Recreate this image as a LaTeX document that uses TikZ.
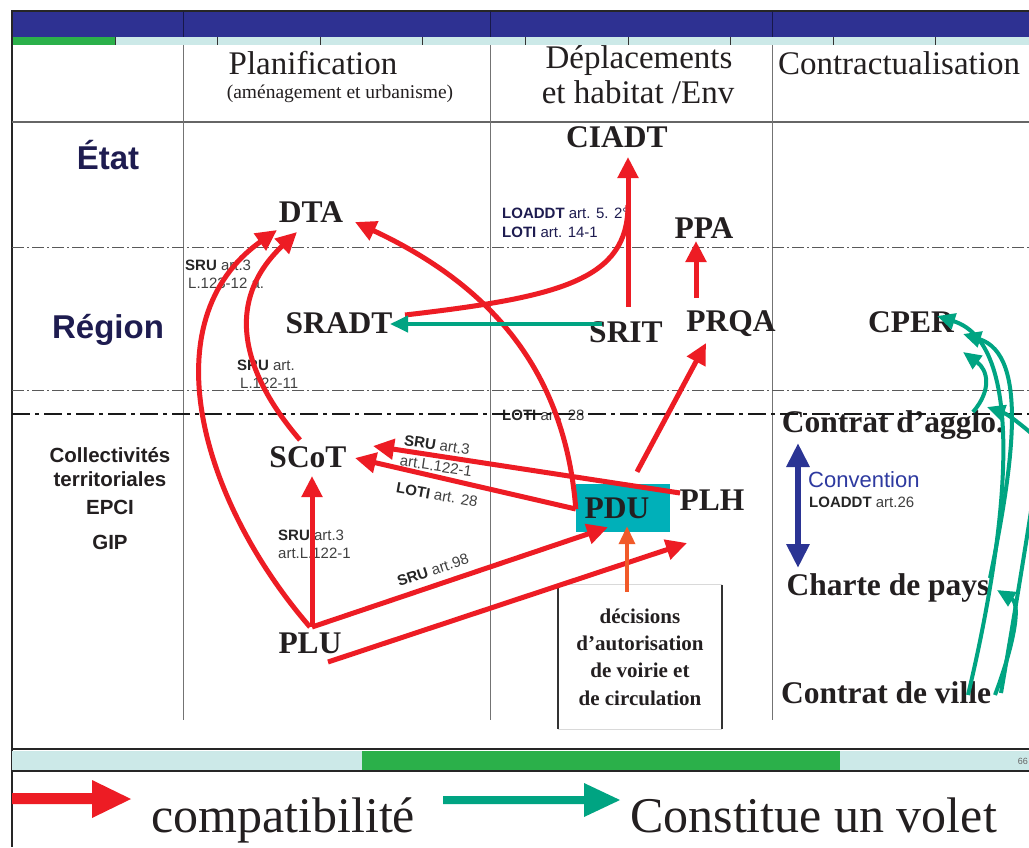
\documentclass[tikz,border=0pt]{standalone}
\usepackage{fontspec}
\setmainfont{Liberation Serif}
\newfontfamily\sansf{Liberation Sans}
\usetikzlibrary{arrows.meta,calc}
\definecolor{cred}{RGB}{237,28,36}
\definecolor{cgreen}{RGB}{0,164,130}
\definecolor{corange}{RGB}{241,90,41}
\definecolor{cteal}{RGB}{0,176,185}
\definecolor{cband}{RGB}{46,49,146}
\definecolor{ccyan}{RGB}{204,233,232}
\definecolor{cbar}{RGB}{43,176,74}
\definecolor{cnavy}{RGB}{30,28,80}
\definecolor{cconv}{RGB}{46,58,160}
\definecolor{cdbl}{RGB}{43,52,148}
\definecolor{cink}{RGB}{35,31,32}
\begin{document}
\begin{tikzpicture}[x=1pt,y=-1pt,
  bnode/.style={font=\fontsize{31.5}{34}\selectfont\bfseries, inner sep=1pt, anchor=base, text=cink},
  hdr/.style={font=\fontsize{33}{36}\selectfont, inner sep=0pt, anchor=base, text=cink},
  side/.style={font=\sansf\fontsize{33}{36}\selectfont\bfseries, inner sep=0pt, anchor=base, text=cnavy},
  coll/.style={font=\sansf\fontsize{20.5}{22}\selectfont\bfseries, inner sep=0pt, anchor=base, text=cink},
  lab/.style={font=\sansf\fontsize{15}{17}\selectfont, inner sep=0pt, text=black!75},
  redline/.style={draw=cred, line width=5pt},
  redarr/.style={redline, -{Triangle[length=21pt,width=20pt]}},
  greenline/.style={draw=cgreen, line width=4pt},
  greenarr/.style={greenline, -{Triangle[length=18pt,width=16pt]}},
  thindash/.style={draw=black!65, line width=0.9pt, dash pattern=on 12pt off 3pt on 2pt off 3pt},
  thickdash/.style={draw=black!90, line width=2pt, dash pattern=on 18pt off 5pt on 4pt off 5pt},
  legtext/.style={font=\fontsize{50}{52}\selectfont, inner sep=0pt, anchor=base west, text=cink}
]
\useasboundingbox (0,0) rectangle (1029,847);
\clip (0,0) rectangle (1029,847);
\fill[white] (0,0) rectangle (1029,847);

% ---- top band
\fill[cband] (12,11) rectangle (1029,37);
\fill[ccyan] (12,37) rectangle (1029,45);
\fill[cbar] (12,37) rectangle (115,45);
\foreach \x in {115,217,320,422,525,628,730,833,935}
  \draw[black!80, line width=1pt] (\x,37) -- (\x,45);
\draw[black!85, line width=1.5pt] (12,11) -- (1029,11);
\foreach \x in {183,490,772}
  \draw[black!50!cband, line width=0.8pt] (\x,11) -- (\x,37);

% ---- frame
\draw[black!85, line width=2pt] (12,10) -- (12,847);
\draw[black!60, line width=1.2pt] (12,122) -- (1029,122);
\foreach \x in {183,490,772}
  \draw[black!55, line width=1pt] (\x,45) -- (\x,720);

% ---- bottom band
\draw[black!85, line width=2pt] (12,749) -- (1029,749);
\fill[ccyan] (12,751) rectangle (1029,770);
\fill[cbar] (362,751) rectangle (840,770);
\draw[black!85, line width=2pt] (12,771) -- (1029,771);
\node[font=\sansf\fontsize{9}{9}\selectfont, text=black!60, anchor=east, inner sep=0pt] (pg) at (1028,761) {66};

% ---- level separators
\draw[thindash] (12,247) -- (1029,247);
\draw[thindash] (12,390) -- (1029,390);

% ---- headers
\node[hdr] (hplan) at (313,74) {Planification};
\node[font=\fontsize{19.5}{22}\selectfont, inner sep=0pt, anchor=base, text=cink] (hplanb) at (340,98) {(aménagement et urbanisme)};
\node[hdr] (hdep) at (639,68) {Déplacements};
\node[hdr] (hdepb) at (638,103) {et habitat /Env};
\node[hdr] (hcon) at (899,74) {Contractualisation};

% ---- row labels
\node[side] (etat) at (108,169) {État};
\node[side] (region) at (108,338) {Région};
\node[coll] (coll1) at (110,462) {Collectivités};
\node[coll] (coll2) at (110,486) {territoriales};
\node[coll] (epci) at (110,514) {EPCI};
\node[coll] (gip) at (110,549) {GIP};

% ---- main nodes
\node[bnode] (CIADT) at (617,147) {CIADT};
\node[bnode] (DTA) at (311,222) {DTA};
\node[bnode] (PPA) at (704,238) {PPA};
\node[bnode] (SRADT) at (339,333) {SRADT};
\node[bnode] (SRIT) at (626,342) {SRIT};
\node[bnode] (PRQA) at (731,331) {PRQA};
\node[bnode] (CPER) at (911,332) {CPER};
\node[bnode] (SCoT) at (308,467) {SCoT};
\node[fill=cteal, minimum width=94pt, minimum height=48pt, inner sep=0pt,
      font=\fontsize{31.5}{34}\selectfont\bfseries, text=cink] (PDU) at (623,508) {\makebox[0pt]{\hspace*{-12pt}PDU}};
\node[bnode] (PLH) at (712,510) {PLH};
\node[bnode] (PLU) at (310,653) {PLU};
\node[bnode] (agglo) at (893,432) {Contrat d’agglo.};
\node[bnode] (charte) at (888,595) {Charte de pays};
\node[bnode] (ville) at (886,703) {Contrat de ville};

\node[minimum width=163pt, minimum height=144pt, inner sep=0pt, align=center,
      font=\fontsize{21}{27.3}\selectfont\bfseries, text=cink] (dec) at (640,657)
      {décisions\\d’autorisation\\de voirie et\\de circulation};
\draw[black!15, line width=1pt] (dec.north west) -- (dec.north east);
\draw[black!15, line width=1pt] (dec.south west) -- (dec.south east);
\draw[black!80, line width=1.8pt] (dec.north west) -- (dec.south west);
\draw[black!80, line width=1.8pt] (dec.north east) -- (dec.south east);

% ---- small labels
\node[lab, anchor=base west] (l1) at (185,270) {\textbf{\color{black!85}SRU} art.3};
\node[lab, anchor=base west] (l2) at (188,288) { L.123-12 a.};
\node[lab, anchor=base west] (l3) at (237,370) {\textbf{\color{black!85}SRU} art.};
\node[lab, anchor=base west] (l4) at (240,388) { L.122-11};
\node[lab, anchor=base west, text=cnavy] (l5) at (502,218) {\textbf{LOADDT} art. 5. 2°};
\node[lab, anchor=base west, text=cnavy] (l6) at (502,237) {\textbf{LOTI} art. 14-1};
\node[lab, anchor=base west] (l7) at (502,420) {\textbf{\color{black!85}LOTI} art. 28};
\node[lab, rotate=-8.5] (l8) at (437,445) {\textbf{\color{black!85}SRU} art.3};
\node[lab, rotate=-8.5] (l9) at (436,466) {art.L.122-1};
\node[lab, rotate=-10] (l10) at (437,495) {\textbf{\color{black!85}LOTI} art. 28};
\node[lab, anchor=base west] (l11) at (278,540) {\textbf{\color{black!85}SRU} art.3};
\node[lab, anchor=base west] (l12) at (278,558) {art.L.122-1};
\node[lab, rotate=18.5] (l13) at (433,570) {\textbf{\color{black!85}SRU} art.98};
\node[font=\sansf\fontsize{22}{24}\selectfont, text=cconv, anchor=base west, inner sep=0pt] (conv) at (808,487) {Convention};
\node[lab, anchor=base west] (conv2) at (809,507) {\textbf{\color{black!85}LOADDT} art.26};

\draw[thickdash] (12,414) -- (1029,414);

% ---- red connectors (compatibilité)
\draw[redarr] ($(SRIT.base)+(2,-35)$) -- ($(CIADT.base)+(11,10)$);
\draw[redline] ($(SRADT.base)+(66,-18)$) .. controls (560,297) and (628,280) .. ($(CIADT.base)+(11,58)$);
\draw[redarr] ($(PRQA.base)+(-35,-33)$) -- ($(PPA.base)+(-8,3)$);
\draw[redarr] ($(PDU.north)+(14,-12)$) -- ($(PRQA.base)+(-25,12)$);
\draw[redarr] ($(PLH.base)+(-32,-17)$) -- ($(SCoT.base)+(65,-21)$);
\draw[redarr] ($(PDU.west)+(0,1)$) -- ($(SCoT.base)+(47,-9)$);
\draw[redarr] ($(PDU.west)+(0,1)$) .. controls (565,370) and (490,285) .. ($(DTA.base)+(44,0)$);
\draw[redarr] ($(PLU.base)+(0,-26)$) .. controls (200,500) and (150,320) .. ($(DTA.base)+(-34,8)$);
\draw[redarr] ($(SCoT.base)+(-8,-27)$) .. controls (240,370) and (225,300) .. ($(DTA.base)+(-14,10)$);
\draw[redarr] ($(PLU.base)+(2,-26)$) -- ($(SCoT.base)+(4,9)$);
\draw[redarr] ($(PLU.base)+(2,-26)$) -- ($(PDU.south)+(-15,-5)$);
\draw[redarr] ($(PLU.base)+(18,9)$) -- ($(PLH.base)+(-25,33)$);

% ---- orange
\draw[draw=corange, line width=3.5pt, -{Triangle[length=18pt,width=16pt]}] ($(dec.north)+(-13,7)$) -- ($(PDU.south)+(4,-6)$);

% ---- green connectors (constitue un volet)
\draw[greenarr] ($(SRIT.base)+(-24,-18)$) -- ($(SRADT.base)+(51,-9)$);
\draw[greenarr] ($(ville.base)+(82,-8)$) .. controls (1005,540) and (1030,345) .. ($(CPER.base)+(26,-16)$);
\draw[greenarr] ($(charte.base)+(102,-17)$) .. controls (1012,470) and (1030,355) .. ($(CPER.base)+(52,2)$);
\draw[greenarr] ($(agglo.base)+(80,-20)$) .. controls (992,390) and (988,370) .. ($(CPER.base)+(52,20)$);
\draw[greenarr] ($(ville.base)+(109,-8)$) .. controls (1012,650) and (1022,605) .. ($(charte.base)+(109,-5)$);
\coordinate (offR) at (1045,420);
\draw[greenline] ($(ville.base)+(115,-10)$) .. controls (1017,600) and (1030,520) .. (offR);
\coordinate (offA) at (1045,445);
\draw[greenarr] (offA) .. controls (1030,432) and (1010,415) .. ($(agglo.base)+(94,-25)$);

% ---- convention double arrow
\draw[draw=cdbl, line width=6pt, {Triangle[length=24pt,width=22pt]}-{Triangle[length=24pt,width=22pt]}] ($(agglo.base)+(-95,11)$) -- ($(charte.base)+(-90,-27)$);

% ---- legend
\fill[cred] (12,793) -- (92,793) -- (92,780) -- (131,799) -- (92,818) -- (92,804) -- (12,804) -- cycle;
\node[legtext] (lcomp) at (151,832) {compatibilité};
\fill[cgreen] (443,796) -- (584,796) -- (584,783) -- (620,800) -- (584,817) -- (584,804) -- (443,804) -- cycle;
\node[legtext] (lvol) at (630,832) {Constitue un volet};
\end{tikzpicture}
\end{document}
